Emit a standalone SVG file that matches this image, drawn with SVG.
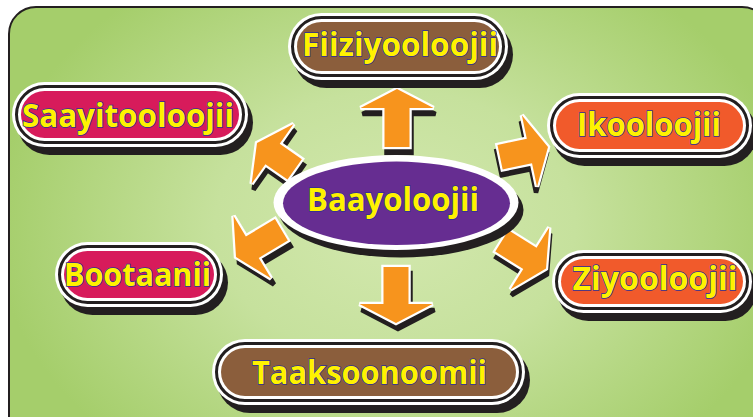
<svg xmlns="http://www.w3.org/2000/svg" width="753" height="417" viewBox="0 0 753 417">
<defs>
<radialGradient id="bg" gradientUnits="userSpaceOnUse" cx="395" cy="225" r="400" gradientTransform="translate(395 225) scale(1 0.75) translate(-395 -225)">
<stop offset="0" stop-color="#d3e8ae"/>
<stop offset="0.45" stop-color="#c6e19d"/>
<stop offset="1" stop-color="#a5ce6b"/>
</radialGradient>
</defs>
<style>
.lbl{font-family:"Open Sans","Liberation Sans",sans-serif;font-weight:bold;font-size:32.5px;fill:#fff200;stroke:#2e3192;stroke-width:1.6px;paint-order:stroke;text-anchor:middle}
.sh{fill:#231f20}
.ow{fill:#ffffff}
.ring{fill:none;stroke:#231f20;stroke-width:3}
.arr{fill:#f7941d;stroke:#ffffff;stroke-width:4.5;stroke-linejoin:miter;paint-order:stroke}
.arrsh{fill:#231f20;stroke:#231f20;stroke-width:4.5;stroke-linejoin:miter}
.brown{fill:#8b5e3c}
.crim{fill:#d71b5b}
.oran{fill:#f15a2b}
</style>
<rect x="0" y="0" width="753" height="417" fill="#ffffff"/>
<rect x="9" y="7" width="760" height="440" rx="27" fill="url(#bg)" stroke="#231f20" stroke-width="2"/>

<g id="connectors">
<g id="arrow-up" transform="translate(397 89)">
<polygon class="arrsh" transform="translate(2 6)" points="0,0 36.5,19 12.5,19 12.5,58 -12.5,58 -12.5,19 -36.5,19"/>
<polygon class="arr" points="0,0 36.5,19 12.5,19 12.5,58 -12.5,58 -12.5,19 -36.5,19"/>
</g>
<g id="arrow-down" transform="translate(396 323) rotate(180)">
<polygon class="arrsh" transform="rotate(-180) translate(2 6) rotate(180)" points="0,0 36.5,19 12.5,19 12.5,56 -12.5,56 -12.5,19 -36.5,19"/>
<polygon class="arr" points="0,0 36.5,19 12.5,19 12.5,56 -12.5,56 -12.5,19 -36.5,19"/>
</g>
<g id="arrow-ul">
<polygon class="arrsh" transform="translate(259 149) rotate(-55)" points="0,0 36.5,19 12.5,19 12.5,46 -12.5,46 -12.5,19 -36.5,19"/>
<polygon class="arr" transform="translate(257 143) rotate(-55)" points="0,0 36.5,19 12.5,19 12.5,46 -12.5,46 -12.5,19 -36.5,19"/>
</g>
<g id="arrow-ur">
<polygon class="arrsh" transform="translate(547 153) rotate(78)" points="0,0 36.5,19 12.5,19 12.5,49 -12.5,49 -12.5,19 -36.5,19"/>
<polygon class="arr" transform="translate(548 147) rotate(78)" points="0,0 36.5,19 12.5,19 12.5,49 -12.5,49 -12.5,19 -36.5,19"/>
</g>
<g id="arrow-ll">
<polygon class="arrsh" transform="translate(239 263) rotate(-121)" points="0,0 36.5,19 12.5,19 12.5,53 -12.5,53 -12.5,19 -36.5,19"/>
<polygon class="arr" transform="translate(236 257) rotate(-121)" points="0,0 36.5,19 12.5,19 12.5,53 -12.5,53 -12.5,19 -36.5,19"/>
</g>
<g id="arrow-lr">
<polygon class="arrsh" transform="translate(547 274.5) rotate(122)" points="0,0 36.5,19 12.5,19 12.5,52 -12.5,52 -12.5,19 -36.5,19"/>
<polygon class="arr" transform="translate(546 268.5) rotate(122)" points="0,0 36.5,19 12.5,19 12.5,52 -12.5,52 -12.5,19 -36.5,19"/>
</g>
</g>

<g id="node-baayoloojii">
<ellipse class="sh" cx="401" cy="210" rx="122.5" ry="47.5"/>
<ellipse class="ow" cx="396" cy="202.5" rx="122.5" ry="47.5"/>
<ellipse fill="#662d91" cx="396.5" cy="203.3" rx="113.5" ry="41.7"/>
<text class="lbl" x="393" y="210.5" textLength="172" lengthAdjust="spacingAndGlyphs">Baayoloojii</text>
</g>

<g id="node-fiiziyooloojii">
<rect class="sh" x="293" y="21" width="220" height="67" rx="33.5"/>
<rect class="ow" x="288" y="13" width="220" height="67" rx="33.5"/>
<rect class="ring" x="292.5" y="17.5" width="211" height="58" rx="29"/>
<rect class="brown" x="297" y="22" width="202" height="49" rx="24.5"/>
<text class="lbl" x="400" y="55.5" textLength="196" lengthAdjust="spacingAndGlyphs">Fiiziyooloojii</text>
</g>

<g id="node-saayitooloojii">
<rect class="sh" x="17" y="90" width="236" height="65" rx="32.5"/>
<rect class="ow" x="12" y="82" width="236" height="65" rx="32.5"/>
<rect class="ring" x="16.5" y="86.5" width="227" height="56" rx="28"/>
<rect class="crim" x="21" y="91" width="218" height="47" rx="23.5"/>
<text class="lbl" x="128" y="126.5" textLength="212" lengthAdjust="spacingAndGlyphs">Saayitooloojii</text>
</g>

<g id="node-ikooloojii">
<rect class="sh" x="552" y="101" width="205" height="65" rx="32.5"/>
<rect class="ow" x="547" y="93" width="205" height="65" rx="32.5"/>
<rect class="ring" x="551.5" y="97.5" width="196" height="56" rx="28"/>
<rect class="oran" x="556" y="102" width="187" height="47" rx="23.5"/>
<text class="lbl" x="649" y="135.5" textLength="144" lengthAdjust="spacingAndGlyphs">Ikooloojii</text>
</g>

<g id="node-bootaanii">
<rect class="sh" x="60" y="250" width="168" height="65" rx="32.5"/>
<rect class="ow" x="55" y="242" width="168" height="65" rx="32.5"/>
<rect class="ring" x="59.5" y="246.5" width="159" height="56" rx="28"/>
<rect class="crim" x="64" y="251" width="150" height="47" rx="23.5"/>
<text class="lbl" x="137.5" y="285.5" textLength="147" lengthAdjust="spacingAndGlyphs">Bootaanii</text>
</g>

<g id="node-ziyooloojii">
<rect class="sh" x="557" y="258" width="200" height="63" rx="31.5"/>
<rect class="ow" x="552" y="250" width="200" height="63" rx="31.5"/>
<rect class="ring" x="556.5" y="254.5" width="191" height="54" rx="27"/>
<rect class="oran" x="561" y="259" width="182" height="45" rx="22.5"/>
<text class="lbl" x="655" y="289.5" textLength="165" lengthAdjust="spacingAndGlyphs">Ziyooloojii</text>
</g>

<g id="node-taaksoonoomii">
<rect class="sh" x="217" y="347" width="313" height="66" rx="33"/>
<rect class="ow" x="212" y="339" width="313" height="66" rx="33"/>
<rect class="ring" x="216.5" y="343.5" width="304" height="57" rx="28.5"/>
<rect class="brown" x="221" y="348" width="295" height="48" rx="24"/>
<text class="lbl" x="369.5" y="383.5" textLength="235" lengthAdjust="spacingAndGlyphs">Taaksoonoomii</text>
</g>
</svg>
